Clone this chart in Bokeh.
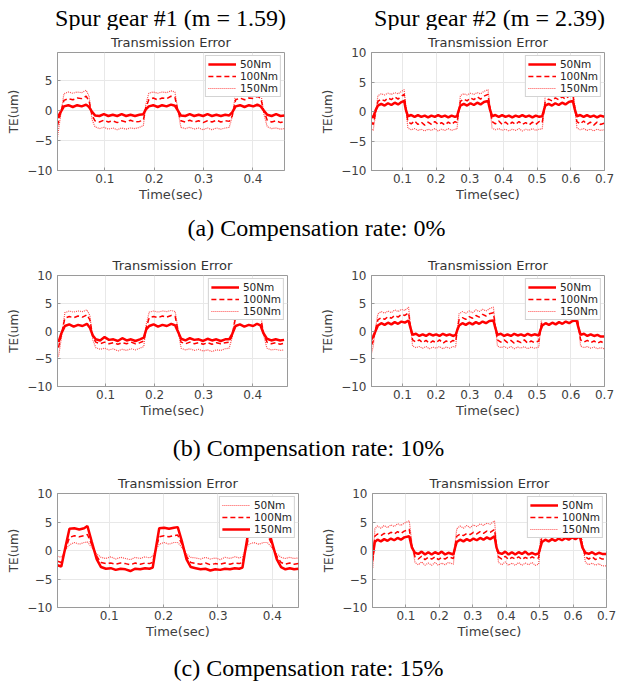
from bokeh.plotting import figure
from bokeh.layouts import column, row
from bokeh.models import Range1d, FixedTicker, Legend, LegendItem
from bokeh.embed import file_html
from bokeh.resources import INLINE
from bokeh.core.properties import value

# ---------------- data ----------------
header_labels = ["Spur gear #1 (m = 1.59)", "Spur gear #2 (m = 2.39)"]
captions = ["(a) Compensation rate: 0%", "(b) Compensation rate: 10%", "(c) Compensation rate: 15%"]
series_labels = ["50Nm", "100Nm", "150Nm"]
y_ticks = [-10, -5, 0, 5, 10]
x_ticks_g1 = [0.1, 0.2, 0.3, 0.4]
x_ticks_g2 = [0.1, 0.2, 0.3, 0.4, 0.5, 0.6, 0.7]

# Spur gear #1, compensation 0% and 10%
t_g1 = [0.004, 0.010, 0.017, 0.026, 0.035, 0.044, 0.053, 0.062, 0.068, 0.074,
        0.080, 0.089, 0.098, 0.107, 0.116, 0.125, 0.134, 0.143, 0.152, 0.161,
        0.170, 0.178, 0.183, 0.189, 0.198, 0.207, 0.216, 0.225, 0.234, 0.242,
        0.248, 0.254, 0.263, 0.272, 0.281, 0.290, 0.299, 0.308, 0.317, 0.326,
        0.335, 0.344, 0.352, 0.358, 0.365, 0.374, 0.383, 0.392, 0.401, 0.409,
        0.416, 0.422, 0.429, 0.438, 0.447, 0.456, 0.464]
a1_50 = [-1.2, -0.3, 0.7, 0.9, 0.6, 0.9, 0.7, 1.0, 0.6, -0.2,
         -0.8, -0.9, -0.6, -0.9, -0.7, -0.9, -0.6, -0.9, -0.7, -0.9,
         -0.7, -0.6, 0.2, 0.7, 0.9, 0.6, 0.9, 0.7, 1.0, 0.8,
         0.0, -0.8, -0.9, -0.6, -0.9, -0.7, -0.9, -0.6, -0.9, -0.7,
         -0.9, -0.7, -0.8, -0.3, 0.7, 0.9, 0.6, 0.9, 0.7, 1.0,
         0.7, 0.0, -0.7, -0.9, -0.6, -0.9, -0.8]
a1_100 = [-2.5, -0.5, 1.7, 2.0, 1.8, 2.1, 2.0, 2.4, 1.6, -0.8,
          -1.7, -1.9, -1.6, -1.9, -1.7, -2.0, -1.7, -1.9, -1.6, -1.9,
          -1.8, -1.6, 0.5, 1.8, 2.1, 1.8, 2.1, 2.0, 2.4, 2.2,
          0.0, -1.7, -1.9, -1.6, -1.9, -1.7, -2.0, -1.7, -1.9, -1.6,
          -1.9, -1.7, -1.8, -0.9, 1.8, 2.1, 1.8, 2.1, 2.0, 2.4,
          2.0, 0.0, -1.6, -1.9, -1.7, -2.0, -1.8]
a1_150 = [-4.4, -1.0, 2.8, 3.1, 2.9, 3.1, 3.0, 3.4, 2.4, -1.5,
          -2.7, -3.0, -2.8, -3.1, -2.9, -3.2, -2.9, -3.1, -2.9, -3.0,
          -2.8, -2.5, 1.0, 2.9, 3.1, 2.9, 3.1, 3.0, 3.3, 3.1,
          0.0, -2.8, -3.0, -2.8, -3.1, -2.9, -3.2, -2.9, -3.2, -2.9,
          -3.1, -2.9, -2.8, -1.0, 2.9, 3.1, 2.9, 3.2, 3.0, 3.3,
          3.0, -0.5, -2.7, -3.0, -2.9, -3.1, -3.0]
b1_50 = [-2.0, -0.4, 0.9, 1.2, 0.8, 1.1, 0.9, 1.3, 0.6, -0.8,
         -1.5, -1.7, -1.1, -1.6, -1.5, -1.8, -1.3, -1.7, -1.5, -1.8,
         -1.5, -1.2, 0.3, 0.9, 1.2, 0.8, 1.1, 0.9, 1.3, 1.0,
         -0.2, -1.4, -1.7, -1.3, -1.6, -1.5, -1.8, -1.4, -1.7, -1.5,
         -1.8, -1.5, -1.5, -0.6, 0.9, 1.2, 0.8, 1.1, 0.9, 1.3,
         1.0, -0.4, -1.4, -1.7, -1.5, -1.7, -1.6]
b1_100 = [-3.0, -0.6, 2.3, 2.6, 2.4, 2.7, 2.5, 2.9, 2.0, -1.0,
          -2.0, -2.3, -2.0, -2.3, -2.1, -2.4, -2.1, -2.3, -2.0, -2.3,
          -2.1, -1.8, 0.6, 2.4, 2.6, 2.4, 2.7, 2.5, 2.8, 2.6,
          0.0, -2.0, -2.3, -2.0, -2.3, -2.1, -2.4, -2.1, -2.4, -2.1,
          -2.3, -2.1, -2.0, -0.9, 2.4, 2.7, 2.4, 2.7, 2.5, 2.9,
          2.5, -0.3, -2.0, -2.3, -2.1, -2.4, -2.2]
b1_150 = [-4.6, -1.2, 3.3, 3.6, 3.4, 3.6, 3.5, 3.8, 2.8, -1.6,
          -3.0, -3.3, -3.1, -3.4, -3.2, -3.6, -3.3, -3.5, -3.2, -3.4,
          -3.1, -2.8, 1.2, 3.4, 3.6, 3.4, 3.6, 3.5, 3.7, 3.5,
          0.2, -3.1, -3.4, -3.2, -3.5, -3.3, -3.6, -3.4, -3.7, -3.4,
          -3.5, -3.2, -3.1, -1.2, 3.4, 3.6, 3.4, 3.6, 3.5, 3.8,
          3.3, -0.6, -3.1, -3.4, -3.3, -3.5, -3.4]

# Spur gear #1, compensation 15%
t_g1c = [0.005, 0.012, 0.020, 0.027, 0.036, 0.045, 0.054, 0.060, 0.068, 0.077,
         0.085, 0.094, 0.103, 0.112, 0.121, 0.130, 0.139, 0.148, 0.157, 0.166,
         0.174, 0.180, 0.186, 0.192, 0.201, 0.210, 0.219, 0.226, 0.234, 0.242,
         0.250, 0.259, 0.268, 0.277, 0.286, 0.295, 0.304, 0.313, 0.322, 0.331,
         0.339, 0.345, 0.351, 0.357, 0.366, 0.375, 0.384, 0.391, 0.399, 0.408,
         0.416, 0.424, 0.432, 0.440, 0.448]
c1_50 = [-1.0, -1.2, 0.2, 1.0, 1.4, 1.1, 1.4, 1.5, 0.5, -0.6,
         -1.2, -1.4, -1.1, -1.5, -1.2, -1.4, -1.6, -1.2, -1.4, -1.1,
         -1.3, -1.0, 0.2, 1.1, 1.4, 1.1, 1.4, 1.4, 0.5, -0.6,
         -1.2, -1.3, -1.5, -1.2, -1.5, -1.3, -1.6, -1.2, -1.4, -1.1,
         -1.3, -1.1, 0.2, 1.1, 1.4, 1.1, 1.4, 1.4, 0.5, -0.6,
         -1.2, -1.4, -1.2, -1.4, -1.3]
c1_100 = [-1.9, -2.1, 0.3, 2.3, 2.6, 2.4, 2.6, 2.8, 1.0, -1.0,
          -2.1, -2.3, -2.2, -2.4, -2.2, -2.3, -2.5, -2.2, -2.4, -2.2,
          -2.3, -2.1, 0.3, 2.4, 2.6, 2.4, 2.6, 2.7, 1.0, -1.0,
          -2.1, -2.3, -2.4, -2.2, -2.5, -2.3, -2.4, -2.2, -2.4, -2.2,
          -2.3, -2.1, 0.3, 2.4, 2.6, 2.4, 2.6, 2.8, 1.0, -1.0,
          -2.1, -2.4, -2.2, -2.4, -2.3]
c1_150 = [-2.6, -2.8, 0.8, 3.8, 3.9, 3.7, 3.9, 4.3, 1.5, -1.5,
          -2.9, -3.2, -3.1, -3.4, -3.2, -3.3, -3.6, -3.2, -3.3, -3.1,
          -3.2, -3.0, 0.5, 3.9, 4.0, 3.8, 4.0, 4.1, 1.5, -1.5,
          -2.9, -3.1, -3.3, -3.2, -3.5, -3.3, -3.4, -3.2, -3.3, -3.1,
          -3.2, -3.0, 0.5, 3.9, 4.0, 3.8, 4.0, 4.1, 1.5, -1.5,
          -2.9, -3.3, -3.1, -3.3, -3.2]

# Spur gear #2, compensation 0%
t_a2 = [0.008, 0.013, 0.020, 0.027, 0.037, 0.047, 0.057, 0.067, 0.077, 0.087,
        0.097, 0.105, 0.110, 0.116, 0.126, 0.136, 0.146, 0.156, 0.166, 0.176,
        0.186, 0.196, 0.206, 0.216, 0.226, 0.236, 0.246, 0.256, 0.262, 0.267,
        0.272, 0.282, 0.292, 0.302, 0.312, 0.322, 0.332, 0.342, 0.354, 0.360,
        0.366, 0.376, 0.386, 0.396, 0.406, 0.416, 0.426, 0.436, 0.446, 0.456,
        0.466, 0.476, 0.486, 0.496, 0.506, 0.515, 0.520, 0.524, 0.534, 0.544,
        0.554, 0.564, 0.574, 0.584, 0.594, 0.606, 0.612, 0.618, 0.628, 0.638,
        0.648, 0.658, 0.668, 0.678, 0.688, 0.699]
a2_50 = [-0.8, -1.0, 0.2, 1.0, 1.3, 1.0, 1.4, 1.1, 1.5, 1.2,
         1.6, 1.8, 0.3, -0.8, -0.6, -0.9, -0.6, -0.9, -0.7, -1.0,
         -0.7, -0.9, -0.6, -0.9, -0.7, -1.0, -0.7, -0.9, -0.8, 0.2,
         1.0, 1.3, 1.0, 1.4, 1.1, 1.5, 1.2, 1.6, 1.8, 0.3,
         -0.8, -0.6, -0.9, -0.6, -0.9, -0.7, -1.0, -0.7, -0.9, -0.6,
         -0.9, -0.7, -1.0, -0.7, -0.9, -0.8, 0.2, 1.0, 1.3, 1.0,
         1.4, 1.1, 1.5, 1.2, 1.6, 1.8, 0.3, -0.8, -0.6, -0.9,
         -0.6, -0.9, -0.7, -1.0, -0.7, -0.9]
a2_100 = [-1.8, -2.2, -0.3, 1.7, 2.1, 1.8, 2.3, 2.0, 2.5, 2.1,
          2.6, 2.9, 0.5, -1.7, -2.1, -1.6, -2.2, -1.8, -2.3, -1.8,
          -2.2, -1.7, -2.2, -1.9, -2.3, -1.8, -2.2, -1.7, -1.9, 0.0,
          1.7, 2.1, 1.8, 2.3, 2.0, 2.5, 2.1, 2.6, 2.9, 0.5,
          -1.7, -2.1, -1.6, -2.2, -1.8, -2.3, -1.8, -2.2, -1.7, -2.2,
          -1.9, -2.3, -1.8, -2.2, -1.7, -1.9, 0.0, 1.7, 2.1, 1.8,
          2.3, 2.0, 2.5, 2.1, 2.6, 2.9, 0.5, -1.7, -2.1, -1.6,
          -2.2, -1.8, -2.3, -1.8, -2.2, -2.0]
a2_150 = [-3.0, -3.2, -0.5, 2.7, 3.0, 2.8, 3.1, 2.9, 3.2, 3.0,
          3.4, 3.7, 0.8, -2.8, -3.1, -2.9, -3.2, -3.0, -3.3, -3.0,
          -3.2, -2.9, -3.3, -3.0, -3.2, -2.9, -3.2, -3.0, -3.0, 0.0,
          2.7, 3.0, 2.8, 3.1, 2.9, 3.2, 3.0, 3.4, 3.7, 0.8,
          -2.8, -3.1, -2.9, -3.2, -3.0, -3.3, -3.0, -3.2, -2.9, -3.3,
          -3.0, -3.2, -2.9, -3.2, -3.0, -3.0, 0.0, 2.7, 3.0, 2.8,
          3.1, 2.9, 3.2, 3.0, 3.4, 3.7, 0.8, -2.8, -3.1, -2.9,
          -3.2, -3.0, -3.3, -3.0, -3.2, -3.1]

# Spur gear #2, compensation 10%
t_b2 = [0.008, 0.013, 0.020, 0.027, 0.037, 0.047, 0.057, 0.067, 0.077, 0.087,
        0.097, 0.107, 0.118, 0.124, 0.130, 0.140, 0.150, 0.160, 0.170, 0.180,
        0.190, 0.200, 0.210, 0.220, 0.230, 0.240, 0.250, 0.258, 0.263, 0.268,
        0.278, 0.288, 0.298, 0.308, 0.318, 0.328, 0.338, 0.348, 0.358, 0.370,
        0.376, 0.382, 0.392, 0.402, 0.412, 0.422, 0.432, 0.442, 0.452, 0.462,
        0.472, 0.482, 0.492, 0.505, 0.510, 0.515, 0.525, 0.535, 0.545, 0.555,
        0.565, 0.575, 0.585, 0.595, 0.605, 0.617, 0.623, 0.629, 0.639, 0.649,
        0.659, 0.669, 0.679, 0.689, 0.699]
b2_50 = [-1.5, -1.0, 0.0, 1.0, 1.4, 1.1, 1.5, 1.2, 1.6, 1.3,
         1.7, 1.5, 1.9, 0.5, -0.7, -0.5, -0.9, -0.6, -0.9, -0.5,
         -0.8, -0.6, -0.9, -0.5, -0.8, -0.6, -0.9, -0.7, 0.2, 1.0,
         1.4, 1.1, 1.5, 1.2, 1.6, 1.3, 1.7, 1.4, 1.8, 1.9,
         0.5, -0.7, -0.5, -0.9, -0.6, -0.9, -0.5, -0.8, -0.6, -0.9,
         -0.5, -0.8, -0.6, -0.8, 0.2, 1.0, 1.4, 1.1, 1.5, 1.2,
         1.6, 1.3, 1.7, 1.4, 1.8, 1.9, 0.5, -0.7, -0.5, -0.9,
         -0.6, -0.9, -0.7, -1.0, -1.0]
b2_100 = [-2.5, -1.8, 0.3, 2.0, 2.4, 2.1, 2.6, 2.3, 2.8, 2.5,
          3.0, 2.8, 3.3, 0.7, -1.6, -2.0, -1.6, -2.1, -1.7, -2.2,
          -1.8, -2.1, -1.6, -2.2, -1.8, -2.1, -1.7, -1.9, 0.3, 2.0,
          2.4, 2.1, 2.6, 2.3, 2.8, 2.5, 3.0, 2.7, 3.1, 3.3,
          0.7, -1.6, -2.0, -1.6, -2.1, -1.7, -2.2, -1.8, -2.1, -1.6,
          -2.2, -1.8, -2.1, -1.8, 0.3, 2.0, 2.4, 2.1, 2.6, 2.3,
          2.8, 2.5, 3.0, 2.7, 3.1, 3.3, 0.7, -1.6, -2.0, -1.7,
          -2.1, -1.8, -2.2, -1.9, -2.2]
b2_150 = [-4.0, -2.8, 0.5, 3.1, 3.5, 3.2, 3.6, 3.3, 3.8, 3.5,
          3.9, 3.7, 4.3, 1.0, -2.7, -3.0, -2.8, -3.1, -2.8, -3.2,
          -2.9, -3.1, -2.8, -3.2, -2.9, -3.1, -2.8, -2.9, 0.5, 3.1,
          3.5, 3.2, 3.6, 3.3, 3.8, 3.5, 3.9, 3.6, 4.0, 4.3,
          1.0, -2.7, -3.0, -2.8, -3.1, -2.8, -3.2, -2.9, -3.1, -2.8,
          -3.2, -2.9, -3.1, -2.9, 0.5, 3.1, 3.5, 3.2, 3.6, 3.3,
          3.8, 3.5, 3.9, 3.6, 4.0, 4.3, 1.0, -2.7, -3.0, -2.8,
          -3.1, -2.9, -3.2, -3.0, -3.2]

# Spur gear #2, compensation 15%
t_c2 = [0.001, 0.007, 0.015, 0.025, 0.035, 0.045, 0.055, 0.065, 0.075, 0.085,
        0.095, 0.110, 0.118, 0.127, 0.137, 0.147, 0.157, 0.167, 0.177, 0.187,
        0.197, 0.207, 0.217, 0.227, 0.242, 0.247, 0.252, 0.262, 0.272, 0.282,
        0.292, 0.302, 0.312, 0.322, 0.332, 0.342, 0.352, 0.365, 0.371, 0.377,
        0.387, 0.397, 0.407, 0.417, 0.427, 0.437, 0.447, 0.457, 0.467, 0.477,
        0.487, 0.497, 0.502, 0.507, 0.517, 0.527, 0.537, 0.547, 0.557, 0.567,
        0.577, 0.587, 0.597, 0.607, 0.620, 0.628, 0.637, 0.647, 0.657, 0.667,
        0.677, 0.687, 0.699]
c2_50 = [-0.8, 1.5, 1.9, 1.6, 2.0, 1.7, 2.1, 1.8, 2.2, 1.9,
         2.3, 2.5, 0.5, -0.4, -0.6, -0.2, -0.7, -0.3, -0.7, -0.3,
         -0.6, -0.2, -0.7, -0.4, -0.7, 0.5, 1.5, 1.9, 1.6, 2.0,
         1.7, 2.1, 1.8, 2.2, 1.9, 2.3, 2.0, 2.5, 0.5, -0.4,
         -0.6, -0.2, -0.7, -0.3, -0.7, -0.3, -0.6, -0.2, -0.7, -0.4,
         -0.7, -0.5, 0.5, 1.5, 1.9, 1.6, 2.0, 1.7, 2.1, 1.8,
         2.2, 1.9, 2.3, 2.0, 2.5, 0.5, -0.4, -0.6, -0.3, -0.7,
         -0.4, -0.6, -0.6]
c2_100 = [-1.8, 2.5, 2.9, 2.6, 3.0, 2.8, 3.2, 2.9, 3.3, 3.0,
          3.4, 3.7, 0.8, -1.1, -1.5, -1.0, -1.6, -1.2, -1.5, -1.1,
          -1.6, -1.2, -1.5, -1.1, -1.4, 0.8, 2.5, 2.9, 2.6, 3.0,
          2.8, 3.2, 2.9, 3.3, 3.0, 3.4, 3.2, 3.7, 0.8, -1.1,
          -1.5, -1.0, -1.6, -1.2, -1.5, -1.1, -1.6, -1.2, -1.5, -1.1,
          -1.4, -1.3, 0.8, 2.5, 2.9, 2.6, 3.0, 2.8, 3.2, 2.9,
          3.3, 3.0, 3.4, 3.2, 3.7, 0.8, -1.1, -1.5, -1.1, -1.6,
          -1.2, -1.5, -1.5]
c2_150 = [-3.0, 3.8, 4.3, 3.9, 4.4, 4.0, 4.5, 4.2, 4.7, 4.4,
          4.8, 5.2, 1.2, -2.1, -2.5, -2.0, -2.6, -2.2, -2.6, -2.1,
          -2.6, -2.2, -2.5, -2.1, -2.4, 1.2, 3.8, 4.3, 3.9, 4.4,
          4.0, 4.5, 4.2, 4.7, 4.4, 4.8, 4.6, 5.2, 1.2, -2.1,
          -2.5, -2.0, -2.6, -2.2, -2.6, -2.1, -2.6, -2.2, -2.5, -2.1,
          -2.6, -2.4, 1.2, 3.8, 4.3, 3.9, 4.4, 4.0, 4.5, 4.2,
          4.7, 4.4, 4.8, 4.6, 5.2, 1.2, -2.1, -2.5, -2.2, -2.6,
          -2.3, -2.7, -2.7]

# ---------------- styling ----------------
RED = "#ff0000"
AXC = "#9a9a9a"
TXT = "#404040"
SANS = "DejaVu Sans"
STYLE = {
    "solid": dict(line_width=2.5, line_dash="solid", line_alpha=1.0),
    "dash": dict(line_width=1.5, line_dash="5 3", line_alpha=1.0),
    "dot": dict(line_width=1.2, line_dash="1 1", line_alpha=0.7),
}


def te_plot(w, h, mb, xr, yr, xticks, t, ys, styles):
    left, right, top, bottom = mb
    p = figure(width=w, height=h, x_range=Range1d(*xr), y_range=Range1d(*yr),
               output_backend="svg", toolbar_location=None,
               min_border_left=left, min_border_right=right,
               min_border_top=top, min_border_bottom=bottom,
               title="Transmission Error",
               background_fill_color="white", border_fill_color="white")
    p.title.align = "center"
    p.title.text_font = SANS
    p.title.text_font_size = "13px"
    p.title.text_font_style = "normal"
    p.title.text_color = "#333333"
    p.title.standoff = 5
    p.outline_line_color = AXC
    p.grid.grid_line_color = "#e8e8e8"
    p.xaxis.ticker = FixedTicker(ticks=xticks)
    p.yaxis.ticker = FixedTicker(ticks=y_ticks)
    p.xaxis.axis_label = "Time(sec)"
    p.yaxis.axis_label = "TE(um)"
    for ax in p.axis:
        ax.axis_line_color = AXC
        ax.major_tick_line_color = AXC
        ax.major_tick_in = 3
        ax.major_tick_out = 0
        ax.minor_tick_line_color = None
        ax.major_label_text_font = SANS
        ax.major_label_text_font_size = "12px"
        ax.major_label_text_color = TXT
        ax.axis_label_text_font = SANS
        ax.axis_label_text_font_style = "normal"
        ax.axis_label_text_color = TXT
    p.xaxis.axis_label_text_font_size = "13px"
    p.yaxis.axis_label_text_font_size = "12px"
    p.xaxis.major_label_standoff = 3
    p.xaxis.axis_label_standoff = 1
    p.yaxis.major_label_standoff = 5
    p.yaxis.axis_label_standoff = 3
    items = []
    for y, lab, st in zip(ys, series_labels, styles):
        r = p.line(t, y, line_color=RED, **STYLE[st])
        items.append(LegendItem(label=lab, renderers=[r]))
    leg = Legend(items=items, location="top_right", margin=3, padding=2,
                 spacing=0, label_height=10, glyph_height=10, glyph_width=28,
                 label_standoff=4, label_text_font=SANS,
                 label_text_font_size="10.5px", label_text_color="#262626",
                 border_line_color="#a8a8a8", background_fill_color="white",
                 background_fill_alpha=1.0)
    p.add_layout(leg)
    return p


def text_fig(w, h, y0, entries):
    p = figure(width=w, height=h, x_range=Range1d(0, w), y_range=Range1d(y0 + h, y0),
               x_axis_location=None, y_axis_location=None, output_backend="svg",
               toolbar_location=None, min_border=0, outline_line_color=None,
               background_fill_color="white", border_fill_color="white")
    p.grid.visible = False
    p.text(x=[e[0] for e in entries], y=[e[1] for e in entries],
           text=[e[2] for e in entries], text_align="center",
           text_baseline="alphabetic", text_font=value("Liberation Serif"),
           text_font_size="24px", text_color="black")
    return p


std = ["solid", "dash", "dot"]
inv = ["dot", "dash", "solid"]

header = text_fig(629, 30, 0, [(170, 17, header_labels[0]), (489, 17, header_labels[1])])

pa1 = te_plot(318, 180, (57, 34, 22, 40), (0.004, 0.464), (-10, 9.7), x_ticks_g1,
              t_g1, [a1_50, a1_100, a1_150], std)
pa2 = te_plot(311, 180, (53, 25, 22, 40), (0.008, 0.7), (-10, 10), x_ticks_g2,
              t_a2, [a2_50, a2_100, a2_150], std)
cap_a = text_fig(629, 38, 210, [(316, 227, captions[0])])

pb1 = te_plot(318, 180, (57, 31, 24, 38), (0.002, 0.471), (-10, 10), x_ticks_g1,
              t_g1, [b1_50, b1_100, b1_150], std)
pb2 = te_plot(311, 180, (53, 25, 27, 42), (0.008, 0.7), (-10, 10), x_ticks_g2,
              t_b2, [b2_50, b2_100, b2_150], std)
cap_b = text_fig(629, 38, 428, [(308, 447, captions[1])])

pc1 = te_plot(318, 179, (57, 20, 27, 38), (0.005, 0.448), (-10, 10), x_ticks_g1,
              t_g1c, [c1_50, c1_100, c1_150], inv)
pc2 = te_plot(311, 179, (54, 23, 26, 37), (0.0, 0.7), (-10, 10), x_ticks_g2,
              t_c2, [c2_50, c2_100, c2_150], std)
cap_c = text_fig(629, 39, 645, [(308, 667, captions[2])])

layout = column(header, row(pa1, pa2), cap_a, row(pb1, pb2), cap_b, row(pc1, pc2), cap_c)

open("out.html", "w").write(file_html(layout, INLINE))
